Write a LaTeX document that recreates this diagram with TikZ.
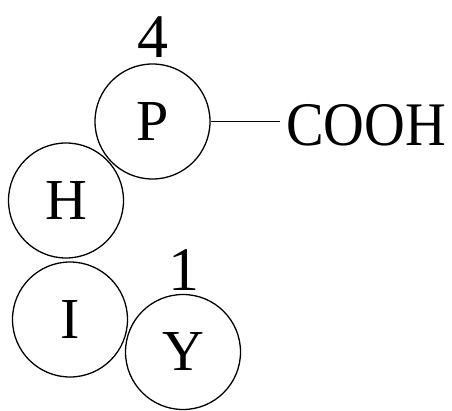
\documentclass[tikz,border=0pt]{standalone}
\usepackage{fontspec}
\setmainfont{Liberation Serif}
\begin{document}
\begin{tikzpicture}[x=1pt,y=-1pt,
  res/.style={circle,draw,line width=1.3pt,minimum size=115pt,inner sep=0pt,font=\fontsize{58}{60}\selectfont},
  lab/.style={font=\fontsize{62}{64}\selectfont,inner sep=0pt}]
\useasboundingbox (0,0) rectangle (452,411);
\node[res] (P) at (152.5,121.5) {P};
\node[res] (H) at (66,200.5) {H};
\node[res] (I) at (70,319.5) {I};
\node[res] (Y) at (183,352) {Y};
\node[lab] (n4) at (153,37) {4};
\node[lab] (n1) at (184,270) {1};
\node[lab,anchor=west,inner xsep=6pt] (C) at (280,125) {\scalebox{0.91}[1]{COOH}};
\draw[line width=1.3pt] (P.east) -- (P.east -| C.west);
\end{tikzpicture}
\end{document}
